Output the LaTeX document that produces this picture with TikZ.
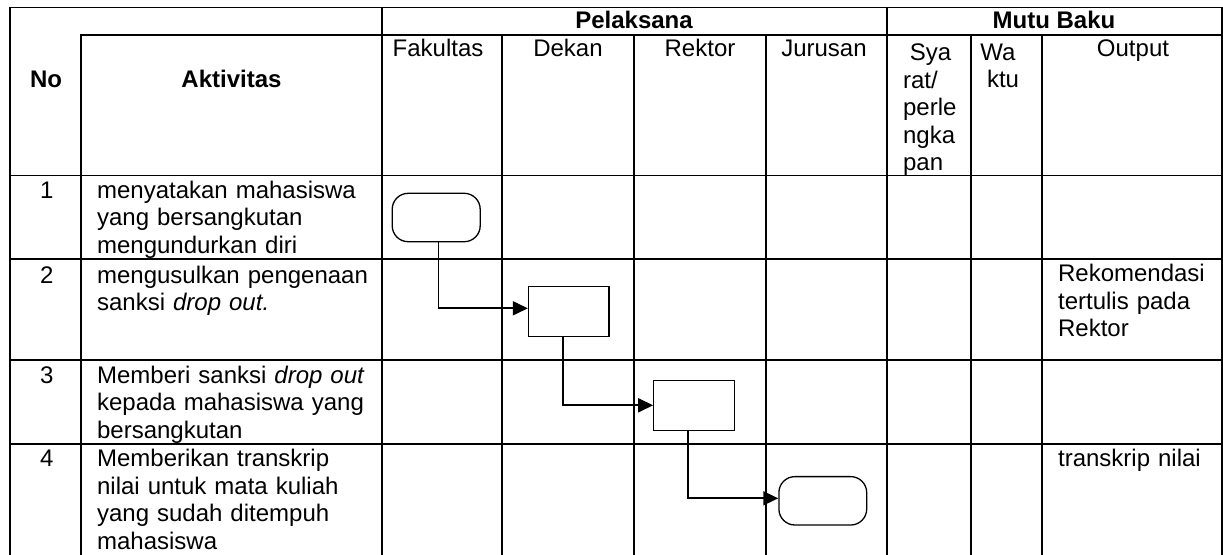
\documentclass[tikz,border=0pt]{standalone}
\usepackage{fontspec}
\setmainfont{Liberation Sans}
\usetikzlibrary{arrows.meta}
\begin{document}
\begin{tikzpicture}[x=0.5pt,y=-0.5pt,
  grid/.style={line width=0.9pt, line cap=rect},
  txt/.style={inner sep=0pt, font=\fontsize{12pt}{13.8pt}\selectfont},
  ltxt/.style={txt, anchor=base west, text width=#1, align=left},
  ctxt/.style={txt, anchor=base},
  hd/.style={ctxt, font=\fontsize{12pt}{13.8pt}\selectfont\bfseries},
  term/.style={draw, line width=0.65pt, rounded corners=8pt, minimum width=#1, minimum height=24.2pt, inner sep=0pt},
  procbox/.style={draw, line width=0.65pt, minimum width=40.2pt, minimum height=25pt, inner sep=0pt},
  conn/.style={line width=0.85pt, -{Triangle[length=7.5pt,width=7pt]}}
]
\useasboundingbox (0,0) rectangle (1223,554);
% grid
\draw[grid] (10,7.5) -- (1222,7.5);
\draw[grid] (81,35) -- (1222,35);
\foreach \yy in {175.5,259.3,360,444} \draw[grid] (10,\yy) -- (1222,\yy);
\foreach \xx in {10,381.7,886.7,1222} \draw[grid] (\xx,7.5) -- (\xx,554);
\draw[grid] (81,35) -- (81,554);
\foreach \xx in {502,634,766,971,1041.7} \draw[grid] (\xx,35) -- (\xx,554);
% header texts
\node[hd] (pel) at (634,28.3) {Pelaksana};
\node[hd] (mutu) at (1054,28.3) {Mutu Baku};
\node[hd] (no) at (46,87.3) {No};
\node[hd] (akt) at (231.5,87.3) {Aktivitas};
\node[ctxt] (fak) at (438,56.7) {Fakultas};
\node[ctxt] (dek) at (568,56.7) {Dekan};
\node[ctxt] (rek) at (700,56.7) {Rektor};
\node[ctxt] (jur) at (824,56.7) {Jurusan};
\node[ltxt=30pt] (sya) at (902.7,60.5) {\hspace*{0.278em}Sya\\rat/\\perle\\ngka\\pan};
\node[ltxt=22pt] (wak) at (980,60) {Wa\\\hspace*{3.3pt}ktu};
\node[ctxt] (out) at (1133,56.7) {Output};
% row numbers
\node[ctxt] (n1) at (46.7,198.3) {1};
\node[ctxt] (n2) at (46.7,283.3) {2};
\node[ctxt] (n3) at (46.7,383.3) {3};
\node[ctxt] (n4) at (46.7,466.7) {4};
% activities
\node[ltxt=140pt] (a1) at (96.7,198.3) {menyatakan mahasiswa\\yang bersangkutan\\mengundurkan diri};
\node[ltxt=140pt] (a2) at (96.7,283.3) {mengusulkan pengenaan\\sanksi \textit{drop out.}};
\node[ltxt=140pt] (a3) at (96.7,383.3) {Memberi sanksi \textit{drop out}\\kepada mahasiswa yang\\bersangkutan};
\node[ltxt=140pt] (a4) at (96.7,466.7) {Memberikan transkrip\\nilai untuk mata kuliah\\yang sudah ditempuh\\mahasiswa};
% outputs
\node[ltxt=80pt] (o2) at (1057.7,281.7) {Rekomendasi\\tertulis pada\\Rektor};
\node[ltxt=80pt] (o4) at (1057.7,466.7) {transkrip nilai};
% flow shapes
\node[term=44pt] (t1) at (436.2,217.5) {};
\node[procbox] (b2) at (568.7,311.7) {};
\node[procbox] (b3) at (694,405.3) {};
\node[term=43.9pt] (t4) at (822.8,500.8) {};
\draw[conn] ([xshift=1.2pt]t1.south) |- ([yshift=1.7pt]b2.west);
\draw[conn] ([xshift=-2.85pt]b2.south) |- (b3.west);
\draw[conn] ([xshift=-3pt]b3.south) |- ([yshift=1.25pt]t4.west);
\end{tikzpicture}
\end{document}
